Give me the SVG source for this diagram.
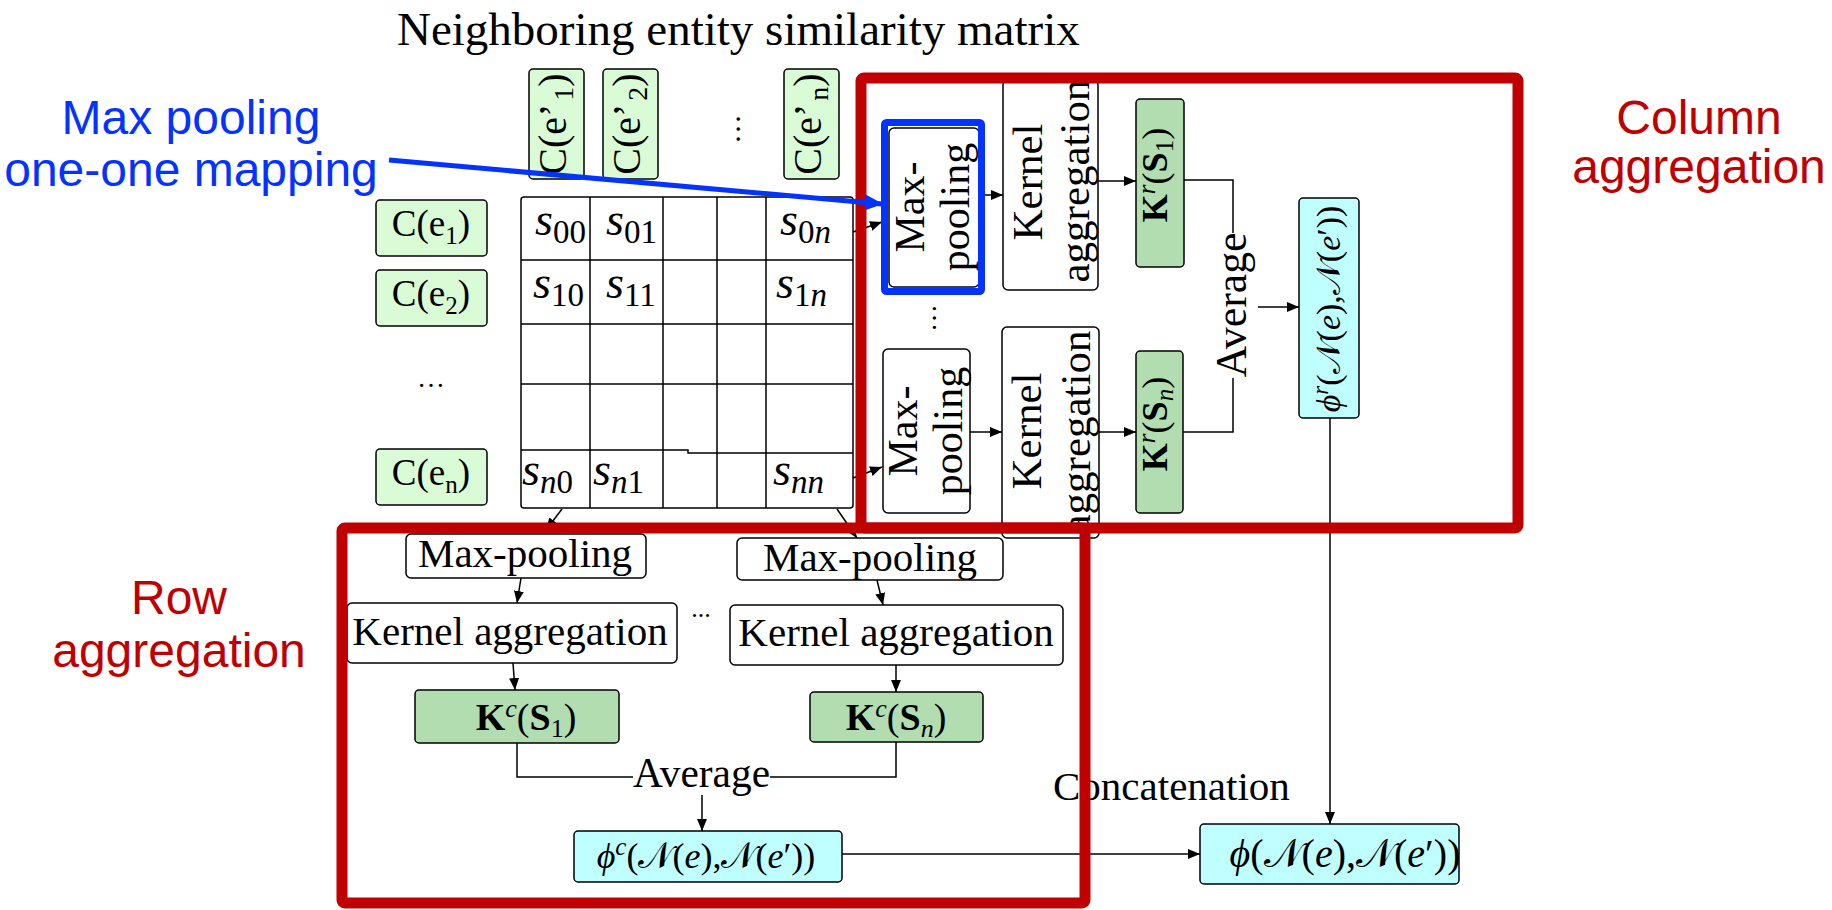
<svg xmlns="http://www.w3.org/2000/svg" width="1832" height="910" viewBox="0 0 1832 910">
<defs>
<marker id="arr" viewBox="0 0 12 10" refX="12" refY="5" markerWidth="12" markerHeight="10" markerUnits="userSpaceOnUse" orient="auto"><path d="M0 0 L12 5 L0 10 z" fill="#000"/></marker>
<marker id="barr" viewBox="0 0 18 16" refX="17" refY="8" markerWidth="18" markerHeight="16" markerUnits="userSpaceOnUse" orient="auto"><path d="M0 0 L18 8 L0 16 z" fill="#0433FF"/></marker>
<style>
.serif{font-family:'Liberation Serif','DejaVu Serif',serif;fill:#000}
.it{font-style:italic}
.b{font-weight:bold}
.box{fill:#fff;stroke:#000;stroke-width:1.5}
.lg{fill:#D9FBD6;stroke:#000;stroke-width:1.5}
.dg{fill:#B1DDB1;stroke:#000;stroke-width:1.5}
.cy{fill:#BFFFFF;stroke:#000;stroke-width:1.5}
.grid{fill:none;stroke:#000;stroke-width:1.5}
.conn{fill:none;stroke:#000;stroke-width:1.5}
.red{fill:none;stroke:#C00000;stroke-width:11;stroke-linejoin:round}
.sans{font-family:'Liberation Sans',Arial,sans-serif;font-size:48px;text-anchor:middle}
.mid{text-anchor:middle}
</style>
</defs>
<rect width="1832" height="910" fill="#fff"/>

<!-- title -->
<text id="title" class="serif" x="397" y="45" font-size="47">Neighboring entity similarity matrix</text>

<!-- column entity headers -->
<g id="col-e1">
<rect class="lg" x="529" y="69" width="55" height="110" rx="4"/>
<text class="serif mid" transform="translate(566,124) rotate(-90)" font-size="40">C(e’<tspan dx="3" dy="7" font-size="28">1</tspan><tspan dy="-7" font-size="40">)</tspan></text>
</g>
<g id="col-e2">
<rect class="lg" x="603" y="69" width="55" height="110" rx="4"/>
<text class="serif mid" transform="translate(640,124) rotate(-90)" font-size="40">C(e’<tspan dx="3" dy="7" font-size="28">2</tspan><tspan dy="-7" font-size="40">)</tspan></text>
</g>
<text id="col-dots" class="serif mid" transform="translate(740,129) rotate(-90)" font-size="30">…</text>
<g id="col-en">
<rect class="lg" x="784" y="69" width="55" height="110" rx="4"/>
<text class="serif mid" transform="translate(821,124) rotate(-90)" font-size="40">C(e’<tspan dx="3" dy="7" font-size="28">n</tspan><tspan dy="-7" font-size="40">)</tspan></text>
</g>

<!-- row entity headers -->
<g id="row-e1">
<rect class="lg" x="376" y="200" width="111" height="56" rx="4"/>
<text class="serif mid" x="431" y="236" font-size="37">C(e<tspan dy="8" font-size="25">1</tspan><tspan dy="-8">)</tspan></text>
</g>
<g id="row-e2">
<rect class="lg" x="376" y="270" width="111" height="56" rx="4"/>
<text class="serif mid" x="431" y="306" font-size="37">C(e<tspan dy="8" font-size="25">2</tspan><tspan dy="-8">)</tspan></text>
</g>
<text id="row-dots" class="serif mid" x="431" y="387" font-size="28">…</text>
<g id="row-en">
<rect class="lg" x="376" y="449" width="111" height="56" rx="4"/>
<text class="serif mid" x="431" y="485" font-size="37">C(e<tspan dy="8" font-size="25">n</tspan><tspan dy="-8">)</tspan></text>
</g>

<!-- similarity matrix -->
<g id="matrix">
<rect class="grid" x="521" y="197" width="332" height="311" rx="3"/>
<path class="grid" d="M590 197V508M663 197V508M717 197V508M766 197V508M521 260H853M521 324H853M521 384H853M521 450H688V453H853"/>
<g class="serif" font-size="46">
<text x="535" y="235"><tspan class="it">s</tspan><tspan font-size="33" dy="8">00</tspan></text>
<text x="606" y="235"><tspan class="it">s</tspan><tspan font-size="33" dy="8">01</tspan></text>
<text x="780" y="235"><tspan class="it">s</tspan><tspan font-size="33" dy="8">0<tspan class="it">n</tspan></tspan></text>
<text x="533" y="298"><tspan class="it">s</tspan><tspan font-size="33" dy="8">10</tspan></text>
<text x="606" y="298"><tspan class="it">s</tspan><tspan font-size="33" dy="8">11</tspan></text>
<text x="776" y="298"><tspan class="it">s</tspan><tspan font-size="33" dy="8">1<tspan class="it">n</tspan></tspan></text>
<text x="522" y="485"><tspan class="it">s</tspan><tspan font-size="33" dy="8"><tspan class="it">n</tspan>0</tspan></text>
<text x="593" y="485"><tspan class="it">s</tspan><tspan font-size="33" dy="8"><tspan class="it">n</tspan>1</tspan></text>
<text x="773" y="485"><tspan class="it">s</tspan><tspan font-size="33" dy="8" class="it">nn</tspan></text>
</g>
</g>

<!-- column aggregation branch -->
<g id="col-maxpool-1">
<rect class="box" x="889" y="128" width="90" height="159" rx="5"/>
<text class="serif mid" transform="translate(924,207) rotate(-90)" font-size="42">Max-</text>
<text class="serif mid" transform="translate(969,207) rotate(-90)" font-size="42">pooling</text>
</g>
<text id="col-mp-dots" class="serif mid" transform="translate(936,318) rotate(-90)" font-size="28">…</text>
<g id="col-maxpool-n">
<rect class="box" x="883" y="349" width="87" height="164" rx="5"/>
<text class="serif mid" transform="translate(917,431) rotate(-90)" font-size="42">Max-</text>
<text class="serif mid" transform="translate(962,431) rotate(-90)" font-size="42">pooling</text>
</g>
<g id="col-kernel-1">
<rect class="box" x="1003" y="80" width="95" height="210" rx="5"/>
<text class="serif mid" transform="translate(1042,182) rotate(-90)" font-size="43">Kernel</text>
<text class="serif mid" transform="translate(1089,181) rotate(-90)" font-size="43">aggregation</text>
</g>
<g id="col-kernel-n">
<rect class="box" x="1002" y="327" width="97" height="211" rx="5"/>
<text class="serif mid" transform="translate(1041,431) rotate(-90)" font-size="43">Kernel</text>
<text class="serif mid" transform="translate(1090,432) rotate(-90)" font-size="43">aggregation</text>
</g>
<g id="col-K1">
<rect class="dg" x="1136" y="99" width="48" height="168" rx="4"/>
<text class="serif mid" transform="translate(1167,175) rotate(-90)" font-size="36"><tspan class="b">K</tspan><tspan class="it" font-size="25" dy="-12">r</tspan><tspan dy="12">(</tspan><tspan class="b">S</tspan><tspan font-size="25" dy="6">1</tspan><tspan dy="-6">)</tspan></text>
</g>
<g id="col-Kn">
<rect class="dg" x="1136" y="351" width="47" height="162" rx="4"/>
<text class="serif mid" transform="translate(1167,424) rotate(-90)" font-size="36"><tspan class="b">K</tspan><tspan class="it" font-size="25" dy="-12">r</tspan><tspan dy="12">(</tspan><tspan class="b">S</tspan><tspan class="it" font-size="25" dy="6">n</tspan><tspan dy="-6">)</tspan></text>
</g>
<text id="col-average" class="serif mid" transform="translate(1246,305) rotate(-90)" font-size="45" textLength="145" lengthAdjust="spacingAndGlyphs">Average</text>
<g id="col-phi">
<rect class="cy" x="1299" y="198" width="60" height="220" rx="4"/>
<text class="serif mid" transform="translate(1340,309) rotate(-90)" font-size="34"><tspan class="it">ϕ</tspan><tspan class="it" font-size="23" dy="-12">r</tspan><tspan dy="12">(𝒩(</tspan><tspan class="it">e</tspan>),𝒩(<tspan class="it">e</tspan>′))</text>
</g>

<!-- row aggregation branch -->
<g id="row-maxpool-1">
<rect class="box" x="406" y="534" width="240" height="44" rx="5"/>
<text class="serif mid" x="525" y="567" font-size="41">Max-pooling</text>
</g>
<g id="row-maxpool-n">
<rect class="box" x="737" y="538" width="266" height="42" rx="5"/>
<text class="serif mid" x="870" y="571" font-size="41">Max-pooling</text>
</g>
<g id="row-kernel-1">
<rect class="box" x="347" y="603" width="330" height="60" rx="5"/>
<text class="serif mid" x="510" y="645" font-size="41">Kernel aggregation</text>
</g>
<text id="row-kernel-dots" class="serif mid" x="701" y="617" font-size="26">...</text>
<g id="row-kernel-n">
<rect class="box" x="730" y="605" width="333" height="60" rx="5"/>
<text class="serif mid" x="896" y="646" font-size="41">Kernel aggregation</text>
</g>
<g id="row-K1">
<rect class="dg" x="415" y="690" width="204" height="53" rx="4"/>
<text class="serif mid" x="526" y="730" font-size="38"><tspan class="b">K</tspan><tspan class="it" font-size="26" dy="-13">c</tspan><tspan dy="13">(</tspan><tspan class="b">S</tspan><tspan font-size="26" dy="7">1</tspan><tspan dy="-7">)</tspan></text>
</g>
<g id="row-Kn">
<rect class="dg" x="810" y="692" width="173" height="50" rx="4"/>
<text class="serif mid" x="896" y="730" font-size="38"><tspan class="b">K</tspan><tspan class="it" font-size="26" dy="-13">c</tspan><tspan dy="13">(</tspan><tspan class="b">S</tspan><tspan class="it" font-size="26" dy="7">n</tspan><tspan dy="-7">)</tspan></text>
</g>
<text id="row-average" class="serif" x="633" y="787" font-size="43" textLength="137" lengthAdjust="spacingAndGlyphs">Average</text>
<g id="row-phi">
<rect class="cy" x="574" y="831" width="268" height="51" rx="4"/>
<text class="serif mid" x="706" y="868" font-size="36"><tspan class="it">ϕ</tspan><tspan class="it" font-size="25" dy="-13">c</tspan><tspan dy="13">(𝒩(</tspan><tspan class="it">e</tspan>),𝒩(<tspan class="it">e</tspan>′))</text>
</g>

<!-- output -->
<text id="concat-label" class="serif" x="1053" y="800" font-size="41">Concatenation</text>
<g id="output">
<rect class="cy" x="1200" y="824" width="259" height="60" rx="4"/>
<text class="serif mid" x="1345" y="867" font-size="40"><tspan class="it">ϕ</tspan>(𝒩(<tspan class="it">e</tspan>),𝒩(<tspan class="it">e</tspan>′))</text>
</g>

<!-- connectors -->
<g id="connectors" class="conn">
<line x1="853" y1="232" x2="882" y2="222" marker-end="url(#arr)"/>
<line x1="853" y1="478" x2="882" y2="467" marker-end="url(#arr)"/>
<line x1="979" y1="195" x2="1003" y2="195" marker-end="url(#arr)"/>
<line x1="970" y1="432" x2="1002" y2="432" marker-end="url(#arr)"/>
<line x1="1098" y1="181" x2="1136" y2="181" marker-end="url(#arr)"/>
<line x1="1099" y1="432" x2="1136" y2="432" marker-end="url(#arr)"/>
<polyline points="1184,180 1233,180 1233,233"/>
<polyline points="1183,432 1233,432 1233,378"/>
<line x1="1258" y1="307" x2="1299" y2="307" marker-end="url(#arr)"/>
<line x1="1330" y1="418" x2="1330" y2="824" marker-end="url(#arr)"/>
<line x1="562" y1="509" x2="546" y2="530" marker-end="url(#arr)"/>
<line x1="837" y1="509" x2="857" y2="538" marker-end="url(#arr)"/>
<line x1="521" y1="578" x2="517" y2="603" marker-end="url(#arr)"/>
<line x1="877" y1="580" x2="883" y2="605" marker-end="url(#arr)"/>
<line x1="513" y1="663" x2="515" y2="690" marker-end="url(#arr)"/>
<line x1="896" y1="665" x2="896" y2="692" marker-end="url(#arr)"/>
<polyline points="517,743 517,777 633,777"/>
<polyline points="896,742 896,777 770,777"/>
<line x1="702" y1="795" x2="702" y2="831" marker-end="url(#arr)"/>
<line x1="842" y1="854" x2="1200" y2="854" marker-end="url(#arr)"/>
</g>

<!-- highlighted regions -->
<g id="column-aggregation">
<rect class="red" x="861" y="78" width="657" height="450" rx="3"/>
<text class="sans" x="1699" y="134" fill="#C00000">Column</text>
<text class="sans" x="1699" y="183" fill="#C00000">aggregation</text>
</g>
<g id="row-aggregation">
<rect class="red" x="342" y="528" width="743" height="375" rx="3"/>
<text class="sans" x="179" y="614" fill="#C00000">Row</text>
<text class="sans" x="179" y="667" fill="#C00000">aggregation</text>
</g>

<!-- max pooling callout -->
<g id="maxpool-callout">
<rect x="884.5" y="122.5" width="97" height="169" rx="2" fill="none" stroke="#0433FF" stroke-width="7"/>
<line x1="389" y1="160" x2="882" y2="204" stroke="#0433FF" stroke-width="5" marker-end="url(#barr)"/>
<text class="sans" x="191" y="134" fill="#0433FF">Max pooling</text>
<text class="sans" x="191" y="186" fill="#0433FF">one-one mapping</text>
</g>
</svg>
